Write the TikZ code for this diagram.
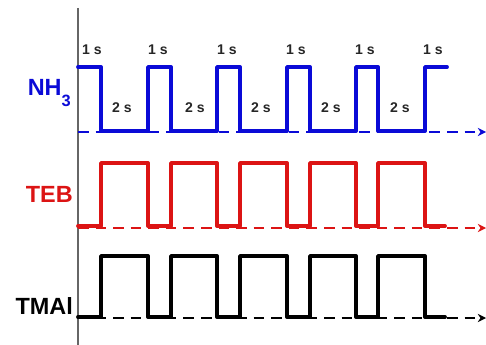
\documentclass[tikz,border=0pt]{standalone}
\usepackage{fontspec}
\setmainfont{Liberation Sans}
\usepackage{tikz}
\usetikzlibrary{arrows.meta}
\definecolor{nhblue}{RGB}{10,10,215}
\definecolor{tebred}{RGB}{220,20,20}
\tikzset{
    gas/.style={font=\fontsize{20}{22}\selectfont\bfseries, anchor=east, inner sep=0pt},
    dur/.style={font=\fontsize{12}{14}\selectfont\bfseries, text=black!85, inner sep=0pt},
    pulse/.style={line width=3.3pt, line join=round, line cap=round},
    base/.style={line width=2.2pt, dash pattern=on 9pt off 6pt, -{Stealth[length=7pt,width=7pt]}}
}

\begin{document}
\begin{tikzpicture}[x=0.03cm,y=-0.03cm]
        \useasboundingbox (0,0) rectangle (486,345);
        \draw [gray!80!black, line width=1.1pt] (78,8) -- (78,345);
        % baselines
        \draw [base, nhblue] (78,132) -- (486,132);
        \draw [base, tebred] (78,228) -- (486,228);
        \draw [base, black] (78,318) -- (486,318);
        % NH3
        \draw [pulse, nhblue] (78,67) -- (101,67) -- (101,131) -- (148,131) -- (148,67) -- (171,67) -- (171,131) -- (217,131) -- (217,67) -- (240,67) -- (240,131) -- (287,131) -- (287,67) -- (310,67) -- (310,131) -- (356,131) -- (356,67) -- (378,67) -- (378,131) -- (425,131) -- (425,67) -- (447,67);
        % TEB
        \draw [pulse, tebred] (78,226) -- (101,226) -- (101,163) -- (148,163) -- (148,226) -- (171,226) -- (171,163) -- (217,163) -- (217,226) -- (240,226) -- (240,163) -- (287,163) -- (287,226) -- (310,226) -- (310,163) -- (356,163) -- (356,226) -- (378,226) -- (378,163) -- (425,163) -- (425,226) -- (445,226);
        % TMAl
        \draw [pulse, black] (78,317) -- (101,317) -- (101,256) -- (148,256) -- (148,317) -- (171,317) -- (171,256) -- (217,256) -- (217,317) -- (240,317) -- (240,256) -- (287,256) -- (287,317) -- (310,317) -- (310,256) -- (356,256) -- (356,317) -- (378,317) -- (378,256) -- (425,256) -- (425,317) -- (445,317);
        \node [gas, text=nhblue] (nh3) at (71,93) {NH\raisebox{-0.5em}{\fontsize{14}{15}\selectfont 3}};
        \node [gas, text=tebred] (teb) at (73,194) {TEB};
        \node [gas, text=black] (tmal) at (73,306) {TMAl};
        \node [dur] (one1) at (92,50) {1 s};
        \node [dur] (one2) at (158,50) {1 s};
        \node [dur] (one3) at (227,50) {1 s};
        \node [dur] (one4) at (296,50) {1 s};
        \node [dur] (one5) at (365,50) {1 s};
        \node [dur] (one6) at (433,50) {1 s};
        \node [dur] (two1) at (122,108) {2 s};
        \node [dur] (two2) at (195,108) {2 s};
        \node [dur] (two3) at (261,108) {2 s};
        \node [dur] (two4) at (331,108) {2 s};
        \node [dur] (two5) at (400,108) {2 s};
    \end{tikzpicture}
\end{document}
